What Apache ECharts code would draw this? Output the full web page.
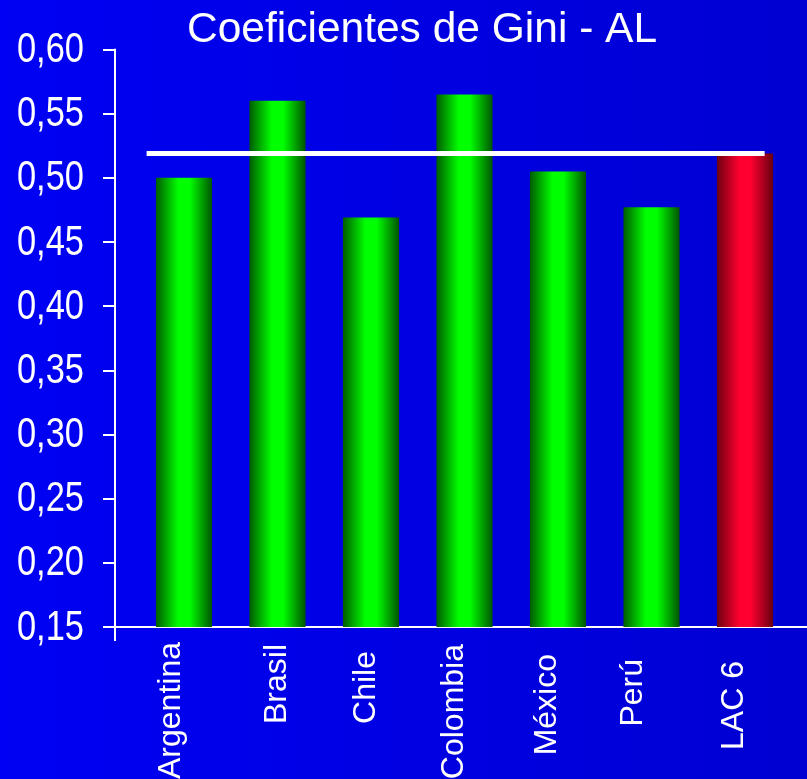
<!DOCTYPE html>
<html><head><meta charset="utf-8">
<script src="https://cdn.jsdelivr.net/npm/echarts@6/dist/echarts.min.js"></script>
<style>html,body{margin:0;padding:0;background:#0000e6}#c{width:807px;height:779px}</style>
</head><body><div id="c"></div>
<script>
// ---- data ----
const titleText = 'Coeficientes de Gini - AL';
const categories = ['Argentina', 'Brasil', 'Chile', 'Colombia', 'México', 'Perú', 'LAC 6'];
const giniValues = [0.500, 0.560, 0.469, 0.565, 0.505, 0.477, 0.519];
const highlightCategory = 'LAC 6';
const referenceValue = 0.519;
const referenceSpan = [-0.4, 6.21];   // in category-index units
const yTicks = [0.15, 0.20, 0.25, 0.30, 0.35, 0.40, 0.45, 0.50, 0.55, 0.60];
const yTickLabels = ['0,15', '0,20', '0,25', '0,30', '0,35', '0,40', '0,45', '0,50', '0,55', '0,60'];
const yMin = 0.15, yMax = 0.60, yStep = 0.05;

// ---- styles (label placement tweaks, not data) ----
const labelLineBox = [26, 1, 10, 20, 22, 36, 22];
const labelPadRight = [0, 2, 9, 2, 12, 17, 19];
const regFont = '"Liberation Sans", Arial, sans-serif';
function hGrad(stops) {
  return { type: 'linear', x: 0, y: 0, x2: 1, y2: 0, colorStops: stops };
}
const greenGrad = hGrad([
  { offset: 0, color: '#005c00' }, { offset: 0.4, color: '#00ff00' },
  { offset: 0.6, color: '#00ff00' }, { offset: 1, color: '#005400' }]);
const redGrad = hGrad([
  { offset: 0, color: '#6e0010' }, { offset: 0.4, color: '#ff0030' },
  { offset: 0.6, color: '#ff0030' }, { offset: 1, color: '#680010' }]);

const chart = echarts.init(document.getElementById('c'), null, { renderer: 'canvas' });
const gridTop = 49.5, gridBottom = 152;
chart.setOption({
  animation: false,
  backgroundColor: hGrad([{ offset: 0, color: '#0000f4' }, { offset: 1, color: '#0000d2' }]),
  title: {
    text: titleText, left: 182, top: 4,
    textStyle: { color: '#ffffff', fontSize: 42.5, fontWeight: 'normal', fontFamily: regFont }
  },
  grid: [
    { left: 137.25, right: 15.25, top: gridTop, bottom: gridBottom, outerBoundsMode: 'none' },
    { left: 115, right: 0, top: gridTop, bottom: gridBottom, outerBoundsMode: 'none' }
  ],
  xAxis: [
    {
      type: 'category', gridIndex: 0,
      data: categories.map((c, i) => ({
        value: c,
        textStyle: {
          padding: [0, labelPadRight[i], 0, 0],
          verticalAlign: 'bottom', lineHeight: labelLineBox[i]
        }
      })),
      axisLine: { show: false }, axisTick: { show: false },
      axisLabel: { rotate: 90, interval: 0, margin: 15, color: '#ffffff', fontSize: 32, fontFamily: regFont }
    },
    { type: 'value', gridIndex: 0, min: -0.5, max: 6.5, show: false },
    {
      type: 'value', gridIndex: 1, min: 0, max: 1, position: 'bottom',
      axisLine: { show: true, onZero: false, lineStyle: { color: '#ffffff', width: 2 } },
      axisTick: { show: true, customValues: [0], length: 14, lineStyle: { color: '#ffffff', width: 2 } },
      axisLabel: { show: false }, splitLine: { show: false }
    }
  ],
  yAxis: [
    {
      type: 'value', gridIndex: 0, min: yMin, max: yMax, interval: yStep, offset: 22.25,
      axisLine: { show: true, onZero: false, lineStyle: { color: '#ffffff', width: 2 } },
      axisTick: { show: true, inside: false, length: 12, lineStyle: { color: '#ffffff', width: 2 } },
      splitLine: { show: false },
      axisLabel: { show: false }
    },
    { type: 'value', gridIndex: 1, min: 0, max: 1, show: false }
  ],
  series: [
    {
      type: 'bar', xAxisIndex: 0, yAxisIndex: 0, barCategoryGap: '40%',
      data: giniValues.map((v, i) => ({
        value: v,
        itemStyle: { color: categories[i] === highlightCategory ? redGrad : greenGrad }
      })),
      z: 2
    },
    {
      type: 'line', xAxisIndex: 1, yAxisIndex: 0, symbol: 'none', z: 5,
      lineStyle: { color: '#ffffff', width: 5 },
      data: referenceSpan.map(x => [x, referenceValue])
    }
  ]
});

// Condensed y-axis tick labels (narrow typeface), placed through the axis scale
const labelRight = 115 - 31;
chart.setOption({
  graphic: yTicks.map((t, i) => {
    const p = chart.convertToPixel({ xAxisIndex: 0, yAxisIndex: 0 }, [0, t]);
    return {
      type: 'text', x: labelRight, y: p[1] + 1, scaleX: 0.82, z: 10,
      style: {
        text: yTickLabels[i], fill: '#ffffff', font: '42px ' + regFont,
        textAlign: 'right', textVerticalAlign: 'middle'
      }
    };
  })
});
</script></body></html>
